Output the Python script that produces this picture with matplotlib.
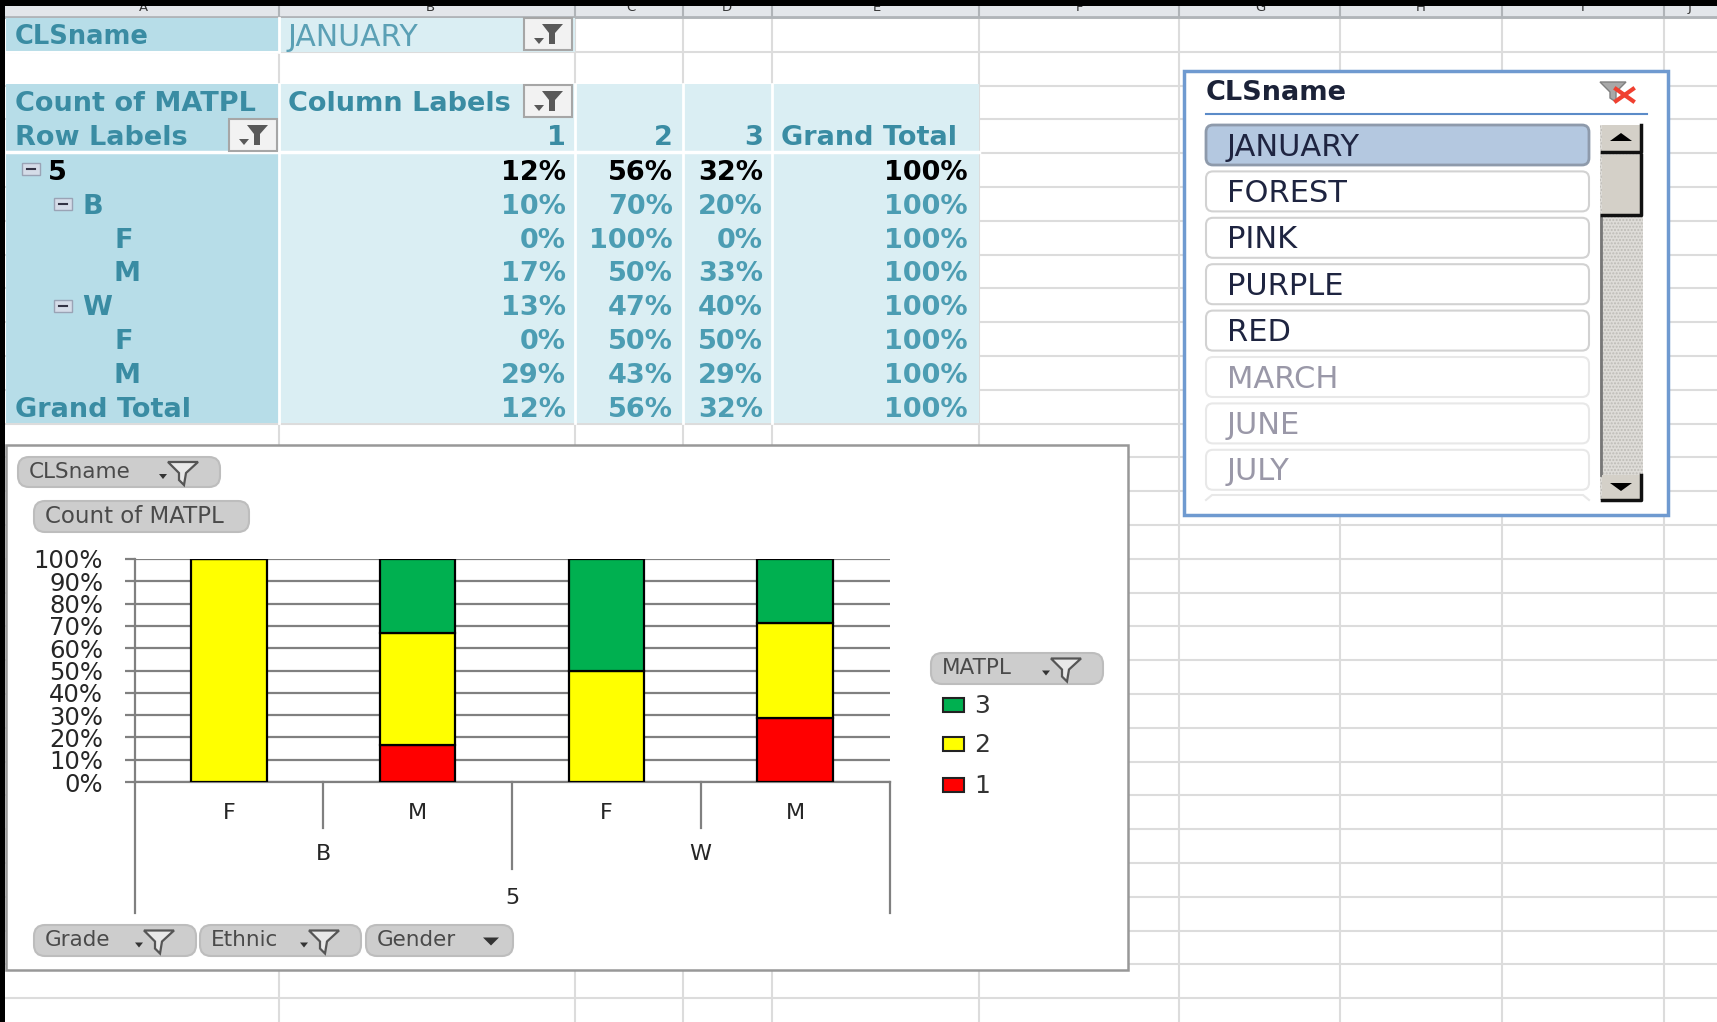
#!/usr/bin/env python3
# -*- coding: utf-8 -*-
"""Excel pivot table, pivot chart and slicer screenshot"""

import matplotlib
matplotlib.use('Agg')
import matplotlib.pyplot as plt
from matplotlib.patches import FancyBboxPatch, Rectangle, Polygon

W, H = 1717, 1022

# chart data
categories = ['F', 'M', 'F', 'M']
ethnic_groups = ['B', 'W']
grade_label = '5'
series_1 = [0, 16.7, 0, 28.6]
series_2 = [100, 50, 50, 42.8]
series_3 = [0, 33.3, 50, 28.6]
series_names = ['1', '2', '3']
series_colors = ['#FF0000', '#FFFF00', '#00B050']
y_ticks = [0, 10, 20, 30, 40, 50, 60, 70, 80, 90, 100]

# pivot table data
row_labels = ['5', 'B', 'F', 'M', 'W', 'F', 'M', 'Grand Total']
row_indent = [48, 82, 114, 113, 82, 114, 113, 15]
col_1 = [12, 10, 0, 17, 13, 0, 29, 12]
col_2 = [56, 70, 100, 50, 47, 50, 43, 56]
col_3 = [32, 20, 0, 33, 40, 50, 29, 32]
col_total = [100, 100, 100, 100, 100, 100, 100, 100]

# slicer items
slicer_active = ['JANUARY', 'FOREST', 'PINK', 'PURPLE', 'RED']
slicer_inactive = ['MARCH', 'JUNE', 'JULY']

column_edges = [279, 575, 683, 772, 979, 1179, 1340, 1502, 1664]
column_letters = ['A', 'B', 'C', 'D', 'E', 'F', 'G', 'H', 'I', 'J']

TEAL = '#3A8CA3'
DARK_CELL = '#B7DDE8'
LIGHT_CELL = '#DAEEF3'
GRID = '#DCDCDC'
FONT = 'DejaVu Sans'

plt.rcParams['font.family'] = FONT

fig = plt.figure(figsize=(W / 100, H / 100), dpi=100, facecolor='white')
sheet = fig.add_axes([0, 0, 1, 1])
sheet.set_xlim(0, W)
sheet.set_ylim(H, 0)
sheet.axis('off')


def rect(x0, y0, x1, y1, color, z=1, **kw):
    sheet.add_patch(Rectangle((x0, y0), x1 - x0, y1 - y0, facecolor=color,
                              edgecolor=kw.pop('edge', 'none'), zorder=z, **kw))


def rounded(x0, y0, x1, y1, face, edge, r=8, lw=1.5, z=4):
    sheet.add_patch(FancyBboxPatch((x0, y0), x1 - x0, y1 - y0,
                                   boxstyle=f'round,pad=0,rounding_size={r}',
                                   facecolor=face, edgecolor=edge, linewidth=lw, zorder=z))


def filter_button(x0, y0, x1, y1):
    """pivot table filter button with funnel"""
    rect(x0, y0, x1, y1, '#F2F2F2', z=4, edge='#A6A6A6', linewidth=1.5)
    cx = (x0 + x1) / 2 + 4
    cy = (y0 + y1) / 2
    sheet.add_patch(Polygon([(cx - 10, cy - 10), (cx + 11, cy - 10), (cx + 3, cy - 1),
                             (cx + 3, cy + 10), (cx - 3, cy + 10), (cx - 3, cy - 1)],
                            facecolor='#595959', edgecolor='none', zorder=5))
    sheet.add_patch(Polygon([(cx - 18, cy + 4), (cx - 8, cy + 4), (cx - 13, cy + 10)],
                            facecolor='#595959', edgecolor='none', zorder=5))


def chart_button(x0, y0, x1, y1, label, marker='funnel', size=15.5):
    """gray rounded field button of the pivot chart"""
    rounded(x0, y0, x1, y1, '#CDCDCD', '#BDBDBD', r=11)
    sheet.text(x0 + 11, (y0 + y1) / 2, label, fontsize=size, color='#4A4A4A',
               ha='left', va='center', zorder=6)
    cy = (y0 + y1) / 2
    if marker == 'funnel':
        cx = x1 - 38
        sheet.add_patch(Polygon([(cx - 14, cy - 10), (cx + 16, cy - 10), (cx + 4, cy + 1),
                                 (cx + 2, cy + 13), (cx - 3, cy + 8), (cx - 3, cy + 1)],
                                facecolor='#E8E8E8', edgecolor='#555555', linewidth=1.6, zorder=6))
        sheet.add_patch(Polygon([(cx - 23, cy + 2), (cx - 15, cy + 2), (cx - 19, cy + 7)],
                                facecolor='#333333', edgecolor='none', zorder=6))
    elif marker == 'arrow':
        cx = x1 - 22
        sheet.add_patch(Polygon([(cx - 8, cy - 3), (cx + 8, cy - 3), (cx, cy + 5)],
                                facecolor='#333333', edgecolor='none', zorder=6))


# ---- worksheet grid ----
for i in range(31):
    y = 18 + 33.8 * i
    sheet.plot([0, W], [y, y], color=GRID, lw=1.5, zorder=0.5)
for x in column_edges:
    sheet.plot([x, x], [18, H], color=GRID, lw=1.5, zorder=0.5)

# column header strip, the black band hides the top of the letters like in the screenshot
rect(0, 0, W, 17, '#E3E6EA', z=0.6)
sheet.plot([0, W], [17, 17], color='#B0B4B8', lw=2, zorder=0.7)
letter_x = [143, 430, 631, 727, 877, 1079, 1260, 1421, 1583, 1690]
for x, letter in zip(letter_x, column_letters):
    sheet.text(x, 11, letter, fontsize=9.5, color='#333333', ha='center', va='baseline', zorder=0.8)
for x in column_edges:
    sheet.plot([x, x], [6, 17], color='#B0B4B8', lw=1.5, zorder=0.7)
rect(0, 0, W, 6, 'black', z=9)
rect(0, 0, 5, H, 'black', z=9)

# ---- pivot table ----
rect(6, 18, 279, 52, DARK_CELL, z=1)
rect(279, 18, 575, 52, LIGHT_CELL, z=1)
rect(6, 84, 279, 423, DARK_CELL, z=1)
rect(279, 84, 979, 423, LIGHT_CELL, z=1)
for x in column_edges[:4]:
    sheet.plot([x, x], [84, 423], color='white', lw=2, zorder=2)
sheet.plot([279, 279], [18, 52], color='white', lw=2, zorder=2)
sheet.plot([6, 979], [152, 152], color='white', lw=2.5, zorder=2)
sheet.plot([6, 279], [52, 52], color='white', lw=1.5, zorder=2)

pivot_font = 19.5
bold = dict(color=TEAL, fontsize=pivot_font, fontweight='bold', va='center', zorder=3)
sheet.text(15, 37, 'CLSname', color=TEAL, fontsize=18.5, fontweight='bold', va='center', zorder=3)
sheet.text(287, 37, 'JANUARY', color='#5BA0B5', fontsize=21.5, va='center', zorder=3)
sheet.text(15, 104, 'Count of MATPL', **bold)
sheet.text(288, 104, 'Column Labels', **bold)
sheet.text(15, 138, 'Row Labels', **bold)
value_right = [566, 673, 763, 968]
for x, head in zip(value_right[:3], series_names):
    sheet.text(x, 138, head, ha='right', **bold)
sheet.text(781, 138, 'Grand Total', **bold)

filter_button(524, 18, 572, 50)
filter_button(524, 85, 572, 117)
filter_button(229, 119, 277, 151)

for i, label in enumerate(row_labels):
    y = 173 + 33.8 * i
    color = 'black' if i == 0 else TEAL
    sheet.text(row_indent[i], y, label, color=color, fontsize=pivot_font, fontweight='bold',
               va='center', zorder=3)
    num_color = 'black' if i == 0 else '#4C9DB3'
    for x, col in zip(value_right, [col_1, col_2, col_3, col_total]):
        sheet.text(x, y, f'{col[i]}%', color=num_color, fontsize=pivot_font, fontweight='bold',
                   ha='right', va='center', zorder=3)

# collapse boxes
for x0, y0 in [(22, 163), (54, 198), (54, 300)]:
    rect(x0, y0, x0 + 18, y0 + 12, '#D5DCE8', z=3, edge='#9AA3B5', linewidth=1)
    sheet.plot([x0 + 5, x0 + 13], [y0 + 6, y0 + 6], color='#333344', lw=1.5, zorder=4)

# ---- slicer ----
rect(1184, 71, 1668, 515, 'white', z=1, edge='#6F9AD0', linewidth=2.5)
sheet.text(1206, 93, 'CLSname', fontsize=19.5, fontweight='bold', color='#1B2238', va='center', zorder=3)
sheet.plot([1206, 1647], [114, 114], color='#5B8BC8', lw=1.5, zorder=3)
# clear filter icon
sheet.add_patch(Polygon([(1600, 82), (1626, 82), (1616, 92), (1616, 102), (1610, 98), (1610, 92)],
                        facecolor='#A8A8A8', edgecolor='#808080', linewidth=1, zorder=3))
sheet.plot([1616, 1633], [89, 101], color='#F04030', lw=3, zorder=4)
sheet.plot([1616, 1633], [101, 89], color='#F04030', lw=3, zorder=4)

for i, label in enumerate(slicer_active + slicer_inactive):
    y0 = 125 + 46.4 * i
    if i == 0:
        rounded(1206, y0, 1589, y0 + 40, '#B4C8E0', '#8E9AAB', r=7, lw=2, z=2)
    else:
        edge = '#D2D2D2' if i < len(slicer_active) else '#E8E8E8'
        rounded(1206, y0, 1589, y0 + 40, 'white', edge, r=7, lw=1.5, z=2)
    color = '#1E2440' if i < len(slicer_active) else '#9A98A8'
    sheet.text(1227, y0 + 22, label, fontsize=22, color=color, va='center', zorder=3)
# item cut off at the bottom of the list
sheet.plot([1206, 1212, 1583, 1589], [500, 495, 495, 500], color='#E8E8E8', lw=1.5, zorder=2)

# scrollbar
rect(1600, 125, 1643, 500, '#DEDCD8', z=2, hatch='.....', edge='#BDBBB6', linewidth=0)
sheet.plot([1601, 1601], [215, 475], color='#777777', lw=2, zorder=3)
for y0, y1 in [(125, 152), (155, 215), (475, 500)]:
    rect(1602, y0, 1642, y1, '#D4D0C8', z=3)
    sheet.plot([1641, 1641, 1602], [y0, y1, y1], color='#111111', lw=2.5, zorder=4)
sheet.add_patch(Polygon([(1610, 141), (1632, 141), (1621, 133)], facecolor='black', zorder=5))
sheet.add_patch(Polygon([(1610, 483), (1632, 483), (1621, 491)], facecolor='black', zorder=5))

# ---- pivot chart frame ----
rect(6, 445, 1128, 970, 'white', z=1.5, edge='#989898', linewidth=1.8)

chart_button(18, 457, 220, 487, 'CLSname')
chart_button(34, 501, 249, 532, 'Count of MATPL', marker=None, size=16.5)
chart_button(931, 653, 1103, 684, 'MATPL')
chart_button(34, 925, 196, 956, 'Grade')
chart_button(200, 925, 361, 956, 'Ethnic')
chart_button(366, 925, 513, 956, 'Gender', marker='arrow')

# legend, top to bottom 3 2 1
for y, name, color in zip([705, 744, 785], series_names[::-1], series_colors[::-1]):
    rect(943, y - 7, 964, y + 7, color, z=3, edge='#222222', linewidth=1.5)
    sheet.text(974, y + 1, name, fontsize=18, color='#333333', va='center', zorder=3)

# ---- chart axes ----
ax_l, ax_r, ax_t, ax_b = 134.5, 889.5, 559, 782
ax = fig.add_axes([ax_l / W, 1 - ax_b / H, (ax_r - ax_l) / W, (ax_b - ax_t) / H])
ax.patch.set_alpha(0)
x_pos = list(range(len(categories)))
ax.set_xlim(-0.5, 3.5)
ax.set_ylim(0, 100)

bottom_2 = series_1
bottom_3 = [a + b for a, b in zip(series_1, series_2)]
bar_kw = dict(width=0.4, edgecolor='black', linewidth=1.6, zorder=3)
ax.bar(x_pos, series_1, color=series_colors[0], **bar_kw)
ax.bar(x_pos, series_2, bottom=bottom_2, color=series_colors[1], **bar_kw)
ax.bar(x_pos, series_3, bottom=bottom_3, color=series_colors[2], **bar_kw)

ax.set_yticks(y_ticks)
ax.set_yticklabels([f'{v}%' for v in y_ticks], fontsize=17.5, color='#262626')
ax.tick_params(axis='y', length=7.5, width=1.6, color='#808080', pad=15)
ax.set_xticks(x_pos)
ax.set_xticklabels(categories, fontsize=16, color='#262626')
ax.tick_params(axis='x', length=0, pad=15)
ax.grid(axis='y', color='#808080', linewidth=1.6, zorder=1)
ax.set_axisbelow(True)
for name, spine in ax.spines.items():
    spine.set_visible(name in ('left', 'bottom'))
    spine.set_color('#808080')
    spine.set_linewidth(1.6)


def below(px):
    # pixels below the axis in axes fraction
    return -px / (ax_b - ax_t)


trans = ax.get_xaxis_transform()
level_lines = [(-0.5, 131), (0.5, 45.5), (1.5, 86.5), (2.5, 45.5), (3.5, 131)]
for x, depth in level_lines:
    ax.plot([x, x], [0, below(depth)], transform=trans, color='#808080', lw=1.6, clip_on=False)
for x, label in zip([0.5, 2.5], ethnic_groups):
    ax.text(x, below(72), label, transform=trans, fontsize=16, color='#262626', ha='center', va='center')
ax.text(1.5, below(116), grade_label, transform=trans, fontsize=16, color='#262626', ha='center', va='center')

fig.savefig('out.png', dpi=100)
plt.close(fig)
